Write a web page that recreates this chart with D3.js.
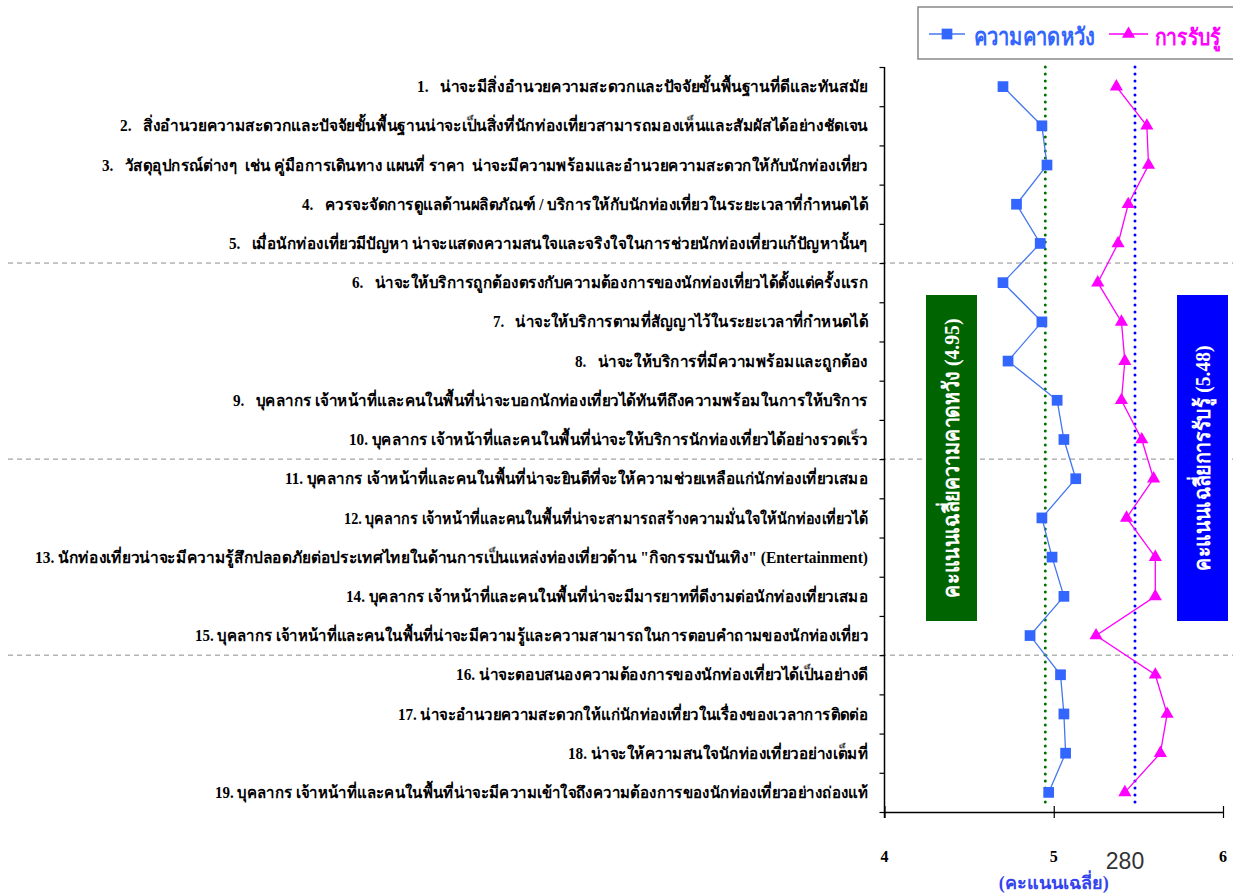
<!DOCTYPE html>
<html><head><meta charset="utf-8">
<script src="https://cdn.jsdelivr.net/npm/d3@7"></script>
<style>
html,body{margin:0;padding:0;background:#fff;}
svg text{white-space:pre;}
</style></head>
<body>
<svg id="c" width="1233" height="894"></svg>
<script>
// ---------- data ----------
const items = [
  "1.   น่าจะมีสิ่งอำนวยความสะดวกและปัจจัยขั้นพื้นฐานที่ดีและทันสมัย",
  "2.   สิ่งอำนวยความสะดวกและปัจจัยขั้นพื้นฐานน่าจะเป็นสิ่งที่นักท่องเที่ยวสามารถมองเห็นและสัมผัสได้อย่างชัดเจน",
  "3.   วัสดุอุปกรณ์ต่างๆ  เช่น คู่มือการเดินทาง แผนที่ ราคา  น่าจะมีความพร้อมและอำนวยความสะดวกให้กับนักท่องเที่ยว",
  "4.   ควรจะจัดการดูแลด้านผลิตภัณฑ์ / บริการให้กับนักท่องเที่ยวในระยะเวลาที่กำหนดได้",
  "5.   เมื่อนักท่องเที่ยวมีปัญหา น่าจะแสดงความสนใจและจริงใจในการช่วยนักท่องเที่ยวแก้ปัญหานั้นๆ",
  "6.   น่าจะให้บริการถูกต้องตรงกับความต้องการของนักท่องเที่ยวได้ตั้งแต่ครั้งแรก",
  "7.   น่าจะให้บริการตามที่สัญญาไว้ในระยะเวลาที่กำหนดได้",
  "8.   น่าจะให้บริการที่มีความพร้อมและถูกต้อง",
  "9.   บุคลากร เจ้าหน้าที่และคนในพื้นที่น่าจะบอกนักท่องเที่ยวได้ทันทีถึงความพร้อมในการให้บริการ",
  "10. บุคลากร เจ้าหน้าที่และคนในพื้นที่น่าจะให้บริการนักท่องเที่ยวได้อย่างรวดเร็ว",
  "11. บุคลากร เจ้าหน้าที่และคนในพื้นที่น่าจะยินดีที่จะให้ความช่วยเหลือแก่นักท่องเที่ยวเสมอ",
  "12. บุคลากร เจ้าหน้าที่และคนในพื้นที่น่าจะสามารถสร้างความมั่นใจให้นักท่องเที่ยวได้",
  "13. นักท่องเที่ยวน่าจะมีความรู้สึกปลอดภัยต่อประเทศไทยในด้านการเป็นแหล่งท่องเที่ยวด้าน \"กิจกรรมบันเทิง\" (Entertainment)",
  "14. บุคลากร เจ้าหน้าที่และคนในพื้นที่น่าจะมีมารยาทที่ดีงามต่อนักท่องเที่ยวเสมอ",
  "15. บุคลากร เจ้าหน้าที่และคนในพื้นที่น่าจะมีความรู้และความสามารถในการตอบคำถามของนักท่องเที่ยว",
  "16. น่าจะตอบสนองความต้องการของนักท่องเที่ยวได้เป็นอย่างดี",
  "17. น่าจะอำนวยความสะดวกให้แก่นักท่องเที่ยวในเรื่องของเวลาการติดต่อ",
  "18. น่าจะให้ความสนใจนักท่องเที่ยวอย่างเต็มที่",
  "19. บุคลากร เจ้าหน้าที่และคนในพื้นที่น่าจะมีความเข้าใจถึงความต้องการของนักท่องเที่ยวอย่างถ่องแท้"
];
const expectation = [4.70,4.93,4.96,4.78,4.92,4.70,4.93,4.73,5.02,5.06,5.13,4.93,4.99,5.06,4.86,5.04,5.06,5.07,4.97];
const perception  = [5.37,5.55,5.56,5.44,5.38,5.26,5.40,5.42,5.40,5.52,5.59,5.43,5.60,5.60,5.25,5.60,5.67,5.63,5.42];
const seriesNames = ["ความคาดหวัง","การรับรู้"];
const meanExpectation = 4.95;
const meanPerception = 5.48;
const meanLabels = ["คะแนนเฉลี่ยความคาดหวัง (4.95)","คะแนนเฉลี่ยการรับรู้ (5.48)"];
const xTicks = [4,5,6];
const groupBreaks = [5,10,15];
const xTitle = "(คะแนนเฉลี่ย)";
const pageNote = "280";

// ---------- layout (not data) ----------
const labelSpan = [451,748,766,566,639,516,375,293,635,519,583,524,833,522,673,412,470,300,653];

const svg = d3.select("#c");
const x = d3.scaleLinear().domain([4,6]).range([884.5,1223]);
const yB = d3.scaleLinear().domain([0,19]).range([67,812]);
const y = d3.scaleBand().domain(d3.range(19)).range([67,812]);
const yc = i => y(i) + y.bandwidth()/2;

const serif = "'Liberation Serif','Times New Roman',serif";
const blue = "#3366ff", mag = "#ff00ff";

// group separators
svg.append("g").selectAll("line").data(groupBreaks).join("line")
  .attr("x1",8).attr("x2",1233)
  .attr("y1",d=>yB(d)).attr("y2",d=>yB(d))
  .attr("stroke","#8c8c8c").attr("stroke-width",1).attr("stroke-dasharray","5,4");

// left axis
const gl = svg.append("g").attr("transform","translate(884.5,0)")
  .call(d3.axisLeft(yB).tickValues(d3.range(20)).tickFormat("").tickSize(5).tickSizeOuter(0));
gl.select(".domain").remove();
gl.selectAll(".tick line").attr("stroke","#000").attr("stroke-width",1.2);
svg.append("line").attr("x1",884.5).attr("x2",884.5).attr("y1",yB(0)).attr("y2",yB(19)+6)
  .attr("stroke","#000").attr("stroke-width",1.5);

// bottom axis
const gb = svg.append("g").attr("transform",`translate(0,${yB(19)})`)
  .call(d3.axisBottom(x).tickValues(xTicks).tickFormat("").tickSize(6).tickSizeOuter(0));
gb.select(".domain").attr("stroke","#000").attr("stroke-width",1.5);
gb.selectAll(".tick line").attr("stroke","#000").attr("stroke-width",1.2).attr("y1",-6).attr("y2",6);
svg.append("g").selectAll("text").data(xTicks).join("text")
  .attr("x",d=>x(d)).attr("y",862).attr("text-anchor","middle")
  .attr("font-family",serif).attr("font-weight","bold").attr("font-size",16)
  .text(d=>d);

// axis title
svg.append("text").attr("x",x(5)).attr("y",889).attr("text-anchor","middle")
  .attr("font-family",serif).attr("font-weight","bold").attr("font-size",18)
  .attr("fill","#3344ee").text(xTitle);
svg.append("text").attr("x",1125).attr("y",869).attr("text-anchor","middle")
  .attr("font-family","'Liberation Sans',Arial,sans-serif").attr("font-size",23)
  .attr("fill","#333").text(pageNote);

// category labels
svg.append("g").selectAll("text").data(items).join("text")
  .attr("x",868).attr("y",(d,i)=>yc(i)).attr("dy","0.35em")
  .attr("text-anchor","end")
  .attr("font-family",serif).attr("font-weight","bold").attr("font-size",16)
  .attr("textLength",(d,i)=>labelSpan[i]).attr("lengthAdjust","spacingAndGlyphs")
  .text(d=>d);

// mean lines
svg.append("line").attr("x1",x(meanExpectation)).attr("x2",x(meanExpectation))
  .attr("y1",yB(0)).attr("y2",805)
  .attr("stroke","#007000").attr("stroke-width",3).attr("stroke-dasharray","0,7").attr("stroke-linecap","round");
svg.append("line").attr("x1",x(meanPerception)).attr("x2",x(meanPerception))
  .attr("y1",yB(0)).attr("y2",805)
  .attr("stroke","#0000ff").attr("stroke-width",3).attr("stroke-dasharray","0,7").attr("stroke-linecap","round");

// mean boxes
const boxes = [
  {fill:"#006400", x0:926, text:meanLabels[0], len:279},
  {fill:"#0000ff", x0:1177, text:meanLabels[1], len:225}
];
boxes.forEach(b=>{
  svg.append("rect").attr("x",b.x0).attr("y",295).attr("width",51).attr("height",326).attr("fill",b.fill);
  svg.append("text").attr("transform",`translate(${b.x0+25.5},458) rotate(-90)`)
    .attr("text-anchor","middle").attr("dy","0.35em")
    .attr("font-family",serif).attr("font-weight","bold").attr("font-size",22)
    .attr("fill","#fff").attr("textLength",b.len).attr("lengthAdjust","spacingAndGlyphs")
    .text(b.text);
});

// series
const line = d3.line().x(d=>x(d)).y((d,i)=>yc(i));
svg.append("path").attr("d",line(expectation)).attr("fill","none").attr("stroke","#4477ee").attr("stroke-width",1.3);
svg.append("path").attr("d",line(perception)).attr("fill","none").attr("stroke",mag).attr("stroke-width",1.3);
const sq = d3.symbol().type(d3.symbolSquare).size(115);
const tri = d3.symbol().type(d3.symbolTriangle).size(75);
svg.append("g").selectAll("path").data(expectation).join("path")
  .attr("transform",(d,i)=>`translate(${x(d)},${yc(i)})`).attr("d",sq).attr("fill",blue);
svg.append("g").selectAll("path").data(perception).join("path")
  .attr("transform",(d,i)=>`translate(${x(d)},${yc(i)})`).attr("d",tri).attr("fill",mag);

// legend
svg.append("rect").attr("x",918).attr("y",7).attr("width",330).attr("height",52)
  .attr("fill","#fff").attr("stroke","#888").attr("stroke-width",1.5);
const lg = [
  {x1:929,x2:965,c:"#4477ee",fc:blue,sym:sq,tx:974,len:121,fs:24,name:seriesNames[0]},
  {x1:1109,x2:1148,c:mag,fc:mag,sym:tri,tx:1155,len:66,fs:22,name:seriesNames[1]}
];
lg.forEach(l=>{
  svg.append("line").attr("x1",l.x1).attr("x2",l.x2).attr("y1",34).attr("y2",34)
    .attr("stroke",l.c).attr("stroke-width",1.5);
  svg.append("path").attr("transform",`translate(${(l.x1+l.x2)/2},34)`).attr("d",l.sym).attr("fill",l.fc);
  svg.append("text").attr("x",l.tx).attr("y",45)
    .attr("font-family",serif).attr("font-weight","bold").attr("font-size",l.fs)
    .attr("fill",l.fc).attr("textLength",l.len).attr("lengthAdjust","spacingAndGlyphs")
    .text(l.name);
});
</script>
</body></html>
